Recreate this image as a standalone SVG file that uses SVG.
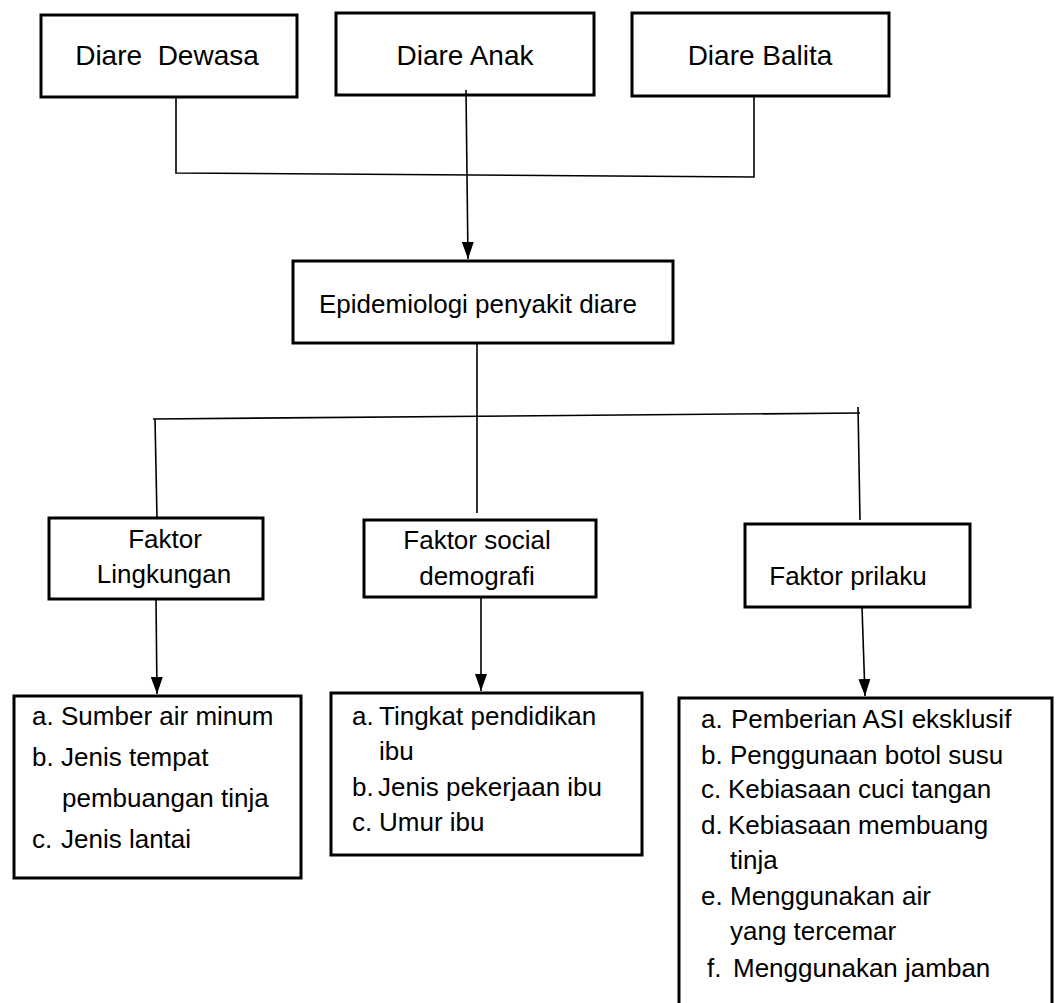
<svg xmlns="http://www.w3.org/2000/svg" width="1056" height="1003" viewBox="0 0 1056 1003">
<style>
.box{fill:#fff;stroke:#000;stroke-width:3}
.t{font-family:"Liberation Sans",Arial,sans-serif;font-size:26px;fill:#000}
.tt{font-size:28px}
.c{fill:none;stroke:#000;stroke-width:1.6}
</style>
<defs>
<marker id="ah" markerWidth="17" markerHeight="12" refX="17" refY="6" orient="auto" markerUnits="userSpaceOnUse" viewBox="0 0 17 12">
<path d="M0,0 L17,6 L0,12 Z" fill="#000"/>
</marker>
</defs>
<rect width="1056" height="1003" fill="#fff"/>
<g id="n-dewasa"><rect class="box" x="41" y="15" width="256" height="82"/><text class="t tt" x="167" y="65" text-anchor="middle" xml:space="preserve">Diare  Dewasa</text></g>
<g id="n-anak"><rect class="box" x="336" y="13" width="258" height="82"/><text class="t tt" x="465" y="65" text-anchor="middle">Diare Anak</text></g>
<g id="n-balita"><rect class="box" x="632" y="13" width="257" height="83"/><text class="t tt" x="760" y="65" text-anchor="middle">Diare Balita</text></g>
<g id="n-epid"><rect class="box" x="293" y="261" width="380" height="82"/><text class="t" x="478" y="313" text-anchor="middle">Epidemiologi penyakit diare</text></g>
<g id="n-lingk"><rect class="box" x="49" y="518" width="214" height="81"/><text class="t" x="165" y="548" text-anchor="middle">Faktor</text><text class="t" x="164" y="583" text-anchor="middle">Lingkungan</text></g>
<g id="n-social"><rect class="box" x="364" y="520" width="232" height="77"/><text class="t" x="477" y="549" text-anchor="middle">Faktor social</text><text class="t" x="477" y="585" text-anchor="middle">demografi</text></g>
<g id="n-prilaku"><rect class="box" x="745" y="524" width="225" height="83"/><text class="t" x="848" y="585" text-anchor="middle">Faktor prilaku</text></g>
<g id="n-list1"><rect class="box" x="14" y="696" width="287" height="182"/>
<text class="t" x="32" y="725">a.</text><text class="t" x="61" y="725">Sumber air minum</text>
<text class="t" x="32" y="766">b.</text><text class="t" x="61" y="766">Jenis tempat</text>
<text class="t" x="62" y="807">pembuangan tinja</text>
<text class="t" x="32" y="848">c.</text><text class="t" x="61" y="848">Jenis lantai</text></g>
<g id="n-list2"><rect class="box" x="331" y="693" width="311" height="162"/>
<text class="t" x="352" y="725">a.</text><text class="t" x="379" y="725">Tingkat pendidikan</text>
<text class="t" x="379" y="760">ibu</text>
<text class="t" x="352" y="796">b.</text><text class="t" x="378" y="796">Jenis pekerjaan ibu</text>
<text class="t" x="352" y="831">c.</text><text class="t" x="379" y="831">Umur ibu</text></g>
<g id="n-list3"><rect class="box" x="679" y="698" width="373" height="320"/>
<text class="t" x="701" y="728">a.</text><text class="t" x="731" y="728">Pemberian ASI eksklusif</text>
<text class="t" x="701" y="764">b.</text><text class="t" x="730" y="764">Penggunaan botol susu</text>
<text class="t" x="701" y="798">c.</text><text class="t" x="728" y="798">Kebiasaan cuci tangan</text>
<text class="t" x="701" y="834">d.</text><text class="t" x="728" y="834">Kebiasaan membuang</text>
<text class="t" x="730" y="869">tinja</text>
<text class="t" x="701" y="905">e.</text><text class="t" x="730" y="905">Menggunakan air</text>
<text class="t" x="730" y="940">yang tercemar</text>
<text class="t" x="707" y="977">f.</text><text class="t" x="733" y="977">Menggunakan jamban</text></g>
<g id="connectors">
<path class="c" d="M176,97 L176,173 L754,177 L754,96"/>
<path class="c" d="M466,90 L468,259" marker-end="url(#ah)"/>
<path class="c" d="M477,343 L477,513"/>
<path class="c" d="M153,419 L860,413"/>
<path class="c" d="M155,419 L157,518"/>
<path class="c" d="M858,407 L860,520"/>
<path class="c" d="M156,599 L157,694" marker-end="url(#ah)"/>
<path class="c" d="M481,597 L481,691" marker-end="url(#ah)"/>
<path class="c" d="M862,607 L865,696" marker-end="url(#ah)"/>
</g>
</svg>
